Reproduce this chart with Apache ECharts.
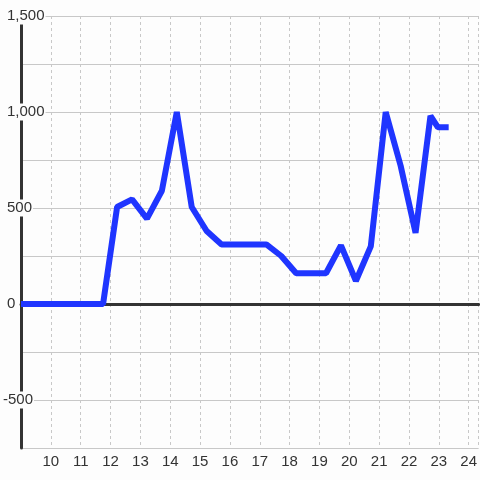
<!DOCTYPE html>
<html>
<head>
<meta charset="utf-8">
<script src="https://cdn.jsdelivr.net/npm/echarts@6/dist/echarts.min.js"></script>
<style>
html,body{margin:0;padding:0;background:#fdfdfd;}
#chart{width:480px;height:480px;}
</style>
</head>
<body>
<div id="chart"></div>
<script>
// Data
const xValues = [9, 11.75, 12.22, 12.72, 13.22, 13.72, 14.22, 14.72, 15.22, 15.72, 16.22, 16.72, 17.22, 17.72, 18.22, 18.72, 19.22, 19.72, 20.22, 20.72, 21.22, 21.72, 22.22, 22.72, 22.97, 23.33];
const yValues = [0, 0, 505, 545, 445, 590, 1000, 505, 380, 310, 310, 310, 310, 250, 160, 160, 160, 305, 120, 300, 1000, 720, 370, 980, 920, 920];
const xTickLabels = [10, 11, 12, 13, 14, 15, 16, 17, 18, 19, 20, 21, 22, 23, 24];
const yTickLabels = [1500, 1000, 500, 0, -500];

const bg = '#fdfdfd';
const font = 'Liberation Sans, Arial, sans-serif';
const chart = echarts.init(document.getElementById('chart'), null, {renderer: 'canvas'});
const seriesData = xValues.map((x, i) => [x, yValues[i]]);

chart.setOption({
  backgroundColor: bg,
  animation: false,
  grid: {left: 20, right: 0, top: 16, bottom: 32, containLabel: false},
  xAxis: [{
    type: 'value',
    min: 9,
    max: 24.3333,
    interval: 1,
    axisLine: {onZero: false, show: false},
    axisTick: {show: false},
    axisLabel: {
      color: '#333',
      fontSize: 15,
      fontFamily: font,
      margin: 6,
      showMinLabel: false,
      showMaxLabel: false,
      formatter: v => xTickLabels.includes(v) ? String(v) : ''
    },
    splitLine: {show: true, lineStyle: {color: '#c8c8c8', width: 1, type: [3, 3]}}
  }, {
    type: 'value',
    min: 9,
    max: 24.3333,
    axisLine: {show: true, onZero: true, lineStyle: {color: '#333', width: 3}},
    axisTick: {show: false},
    axisLabel: {show: false},
    splitLine: {show: false}
  }],
  yAxis: {
    type: 'value',
    min: -750,
    max: 1500,
    interval: 250,
    axisLine: {show: true, lineStyle: {color: '#333', width: 3}},
    axisTick: {show: false},
    splitLine: {show: true, lineStyle: {color: '#c8c8c8', width: 1}},
    axisLabel: {
      align: 'left',
      margin: 18,
      formatter: v => {
        if (!yTickLabels.includes(v)) return '';
        const t = v.toLocaleString('en-US');
        return v < 0 ? '{a|' + t + '}' : '{s| }{a|' + t + '}';
      },
      rich: {
        s: {fontSize: 15, fontFamily: font, width: 4},
        a: {
          color: '#333',
          fontSize: 15,
          fontFamily: font,
          backgroundColor: bg,
          padding: [1, 1, 1, 0],
          lineHeight: 15
        }
      }
    }
  },
  series: [{
    type: 'line',
    xAxisIndex: 0,
    data: seriesData,
    showSymbol: false,
    symbol: 'none',
    lineStyle: {color: '#1f35ff', width: 6, join: 'bevel', cap: 'butt'},
    z: 3
  }]
});
</script>
</body>
</html>
